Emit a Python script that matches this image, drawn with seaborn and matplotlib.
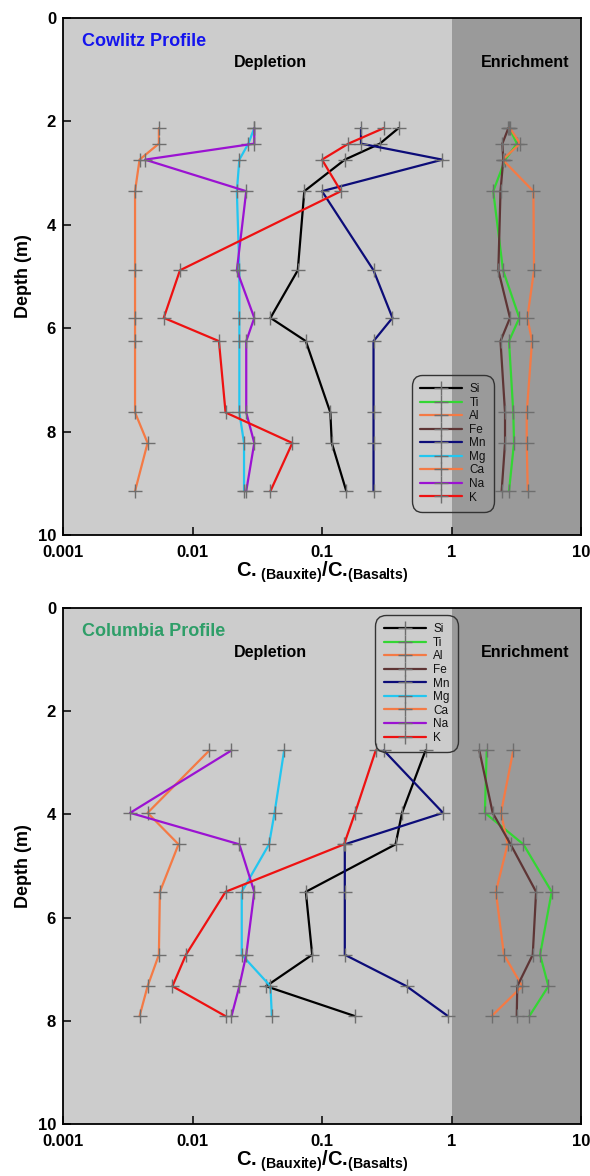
import numpy as np
import pandas as pd
import matplotlib
matplotlib.use("Agg")
import matplotlib.pyplot as plt
import seaborn as sns

# ---------------- data ----------------
elements = ["Si", "Ti", "Al", "Fe", "Mn", "Mg", "Ca", "Na", "K"]

cowlitz_depth = [2.13, 2.43, 2.74, 3.35, 4.88, 5.80, 6.25, 7.63, 8.22, 9.15]
cowlitz_si = [0.39, 0.28, 0.15, 0.073, 0.065, 0.040, 0.075, 0.116, 0.119, 0.154]
cowlitz_ti = [2.80, 3.20, 2.60, 2.10, 2.50, 3.34, 2.78, 3.00, 3.04, 2.78]
cowlitz_al = [2.83, 3.38, 2.48, 4.29, 4.34, 3.85, 4.19, 3.81, 3.81, 3.88]
cowlitz_fe = [2.75, 2.47, 2.51, 2.39, 2.30, 2.83, 2.39, 2.59, 2.59, 2.44]
cowlitz_mn = [0.20, 0.20, 0.85, 0.10, 0.25, 0.35, 0.25, 0.25, 0.25, 0.25]
cowlitz_mg = [0.030, 0.027, 0.023, 0.022, 0.023, 0.023, 0.023, 0.023, 0.025, 0.025]
cowlitz_ca = [0.0055, 0.0055, 0.0039, 0.0036, 0.0036, 0.0036, 0.0036, 0.0036, 0.0045, 0.0036]
cowlitz_na = [0.030, 0.030, 0.0043, 0.026, 0.022, 0.030, 0.026, 0.026, 0.030, 0.026]
cowlitz_k = [0.30, 0.16, 0.10, 0.14, 0.008, 0.006, 0.016, 0.018, 0.059, 0.040]

columbia_depth = [2.76, 3.97, 4.58, 5.50, 6.72, 7.33, 7.91]
columbia_si = [0.63, 0.415, 0.37, 0.075, 0.084, 0.037, 0.18]
columbia_ti = [1.87, 1.81, 3.59, 5.94, 4.83, 5.60, 3.99]
columbia_al = [3.00, 2.41, 2.71, 2.20, 2.54, 3.52, 2.04]
columbia_fe = [1.64, 2.08, 2.86, 4.50, 4.24, 3.22, 3.19]
columbia_mn = [0.30, 0.86, 0.15, 0.15, 0.15, 0.45, 0.94]
columbia_mg = [0.051, 0.043, 0.039, 0.024, 0.024, 0.040, 0.041]
columbia_ca = [0.0135, 0.0045, 0.0078, 0.0056, 0.0055, 0.0045, 0.0039]
columbia_na = [0.020, 0.0033, 0.023, 0.030, 0.026, 0.023, 0.020]
columbia_k = [0.26, 0.18, 0.148, 0.018, 0.0089, 0.0070, 0.018]

x_ticks = [0.001, 0.01, 0.1, 1, 10]
x_tick_labels = ["0.001", "0.01", "0.1", "1", "10"]
y_ticks = [0, 2, 4, 6, 8, 10]

colors = {
    "Si": "#000000", "Ti": "#33d633", "Al": "#f47a45", "Fe": "#5e3535",
    "Mn": "#0c0c78", "Mg": "#22c6f0", "Ca": "#f47a45", "Na": "#9b12d2", "K": "#ee1111",
}


def long_frame(depth, series):
    rows = []
    for el, vals in zip(elements, series):
        for d, v in zip(depth, vals):
            rows.append({"element": el, "depth": d, "ratio": v})
    return pd.DataFrame(rows)


df_cowlitz = long_frame(cowlitz_depth, [cowlitz_si, cowlitz_ti, cowlitz_al, cowlitz_fe, cowlitz_mn,
                                        cowlitz_mg, cowlitz_ca, cowlitz_na, cowlitz_k])
df_columbia = long_frame(columbia_depth, [columbia_si, columbia_ti, columbia_al, columbia_fe, columbia_mn,
                                          columbia_mg, columbia_ca, columbia_na, columbia_k])

# ---------------- style ----------------
sns.set_theme(style="ticks")
plt.rcParams["font.family"] = ["Liberation Sans", "DejaVu Sans"]
plt.rcParams["text.color"] = "black"
plt.rcParams["axes.labelcolor"] = "black"
plt.rcParams["mathtext.fontset"] = "custom"
plt.rcParams["mathtext.rm"] = "Liberation Sans:bold"
plt.rcParams["mathtext.bf"] = "Liberation Sans:bold"
plt.rcParams["mathtext.default"] = "bf"

fig = plt.figure(figsize=(5.90, 11.76), dpi=100)
W, H = 590.0, 1176.0
ax_top = fig.add_axes([63 / W, 1 - 535 / H, 518 / W, 517 / H])
ax_bot = fig.add_axes([63 / W, 1 - 1124 / H, 518 / W, 516 / H])


def draw_panel(ax, df, title, title_color, legend_kw):
    ax.set_facecolor("#cccccc")
    ax.axvspan(1, 10, color="#9a9a9a", zorder=0, lw=0)
    for el in elements:
        sub = df[df["element"] == el]
        sns.lineplot(data=sub, x="ratio", y="depth", ax=ax, color=colors[el],
                     sort=False, estimator=None, lw=1.6, label=el,
                     marker="+", markersize=10, markeredgewidth=1.0,
                     markeredgecolor="#6e6e6e", markerfacecolor="#6e6e6e", zorder=3)
    ax.set_xscale("log")
    ax.set_xlim(0.001, 10)
    ax.set_ylim(10, 0)
    ax.set_xticks(x_ticks)
    ax.set_xticklabels(x_tick_labels)
    ax.minorticks_off()
    ax.set_yticks(y_ticks)
    ax.tick_params(axis="both", direction="in", length=6, width=1.1, labelsize=12,
                   colors="black")
    ax.tick_params(axis="x", pad=7)
    ax.tick_params(axis="y", pad=5)
    for lab in ax.get_xticklabels() + ax.get_yticklabels():
        lab.set_fontweight("bold")
    for sp in ax.spines.values():
        sp.set_visible(True)
        sp.set_linewidth(1.3)
        sp.set_color("black")
    ax.set_ylabel("Depth (m)", fontsize=13, fontweight="bold", labelpad=4)
    ax.set_xlabel(r"C.$_{\ (Bauxite)}$/C.$_{(Basalts)}$", fontsize=14.5,
                  fontweight="bold", labelpad=0)
    ax.text(0.037, 0.955, title, transform=ax.transAxes, color=title_color,
            fontsize=13, fontweight="bold", ha="left", va="center")
    ax.text(0.40, 0.913, "Depletion", transform=ax.transAxes, fontsize=11.5,
            fontweight="bold", ha="center", va="center", color="black")
    ax.text(0.892, 0.913, "Enrichment", transform=ax.transAxes, fontsize=11.5,
            fontweight="bold", ha="center", va="center", color="black")
    leg = ax.legend(fontsize=8.5, handlelength=3.6, labelspacing=0.13, handletextpad=0.6,
                    borderpad=0.5, frameon=True, fancybox=True, facecolor="none",
                    edgecolor="#333333", framealpha=1, **legend_kw)
    leg.get_frame().set_linewidth(1.0)
    leg.get_frame().set_boxstyle("round,pad=0.2,rounding_size=0.9")
    for t in leg.get_texts():
        t.set_color("#111111")
    leg.set_zorder(5)


draw_panel(ax_top, df_cowlitz, "Cowlitz Profile", "#1414ee",
           dict(loc="lower left", bbox_to_anchor=(0.666, 0.038)))
draw_panel(ax_bot, df_columbia, "Columbia Profile", "#2e9e68",
           dict(loc="upper left", bbox_to_anchor=(0.596, 0.993)))

fig.savefig("out.png", dpi=100)
